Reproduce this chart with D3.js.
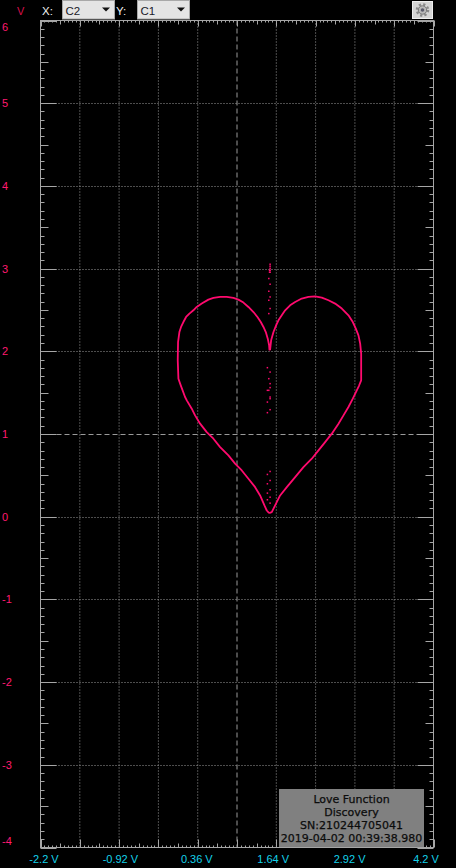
<!DOCTYPE html>
<html><head><meta charset="utf-8">
<script src="https://cdn.jsdelivr.net/npm/d3@7"></script>
<style>html,body{margin:0;padding:0;background:#000;overflow:hidden}</style>
</head><body>
<script>
// ---- data (volts) ----
const xTickLabels = ["-2.2 V","-0.92 V","0.36 V","1.64 V","2.92 V","4.2 V"];
const xTickValues = [-2.2,-0.92,0.36,1.64,2.92,4.2];
const yTickValues = [6,5,4,3,2,1,0,-1,-2,-3,-4];
const infoLines = ["Love Function","Discovery","SN:210244705041","2019-04-02 00:39:38.980"];
const traceX = [1.523,1.485,1.447,1.376,1.295,1.186,1.078,0.969,0.860,0.725,0.616,0.507,0.399,0.317,0.263,0.182,0.154,0.084,0.046,0.035,0.040,0.062,0.089,0.127,0.171,0.225,0.290,0.344,0.426,0.534,0.616,0.725,0.833,0.942,1.023,1.105,1.186,1.268,1.333,1.387,1.431,1.469,1.501,1.523,1.528,
  1.539,1.556,1.594,1.637,1.675,1.729,1.784,1.865,1.947,2.055,2.164,2.272,2.381,2.490,2.598,2.707,2.815,2.886,2.935,2.978,3.006,3.022,3.022,3.022,2.985,2.951,2.886,2.815,2.734,2.653,2.544,2.435,2.327,2.218,2.082,1.947,1.811,1.702,1.621,1.566,1.523];
const traceY = [0.043,0.075,0.136,0.257,0.357,0.459,0.559,0.641,0.741,0.842,0.943,1.023,1.125,1.225,1.306,1.407,1.447,1.588,1.669,1.891,2.112,2.233,2.294,2.354,2.415,2.456,2.496,2.536,2.577,2.625,2.645,2.657,2.657,2.645,2.625,2.589,2.536,2.475,2.415,2.354,2.294,2.233,2.153,2.072,2.020,
  2.020,2.133,2.233,2.314,2.375,2.435,2.496,2.556,2.596,2.638,2.657,2.665,2.650,2.617,2.577,2.517,2.435,2.354,2.275,2.193,2.093,1.972,1.810,1.649,1.580,1.528,1.427,1.326,1.225,1.125,1.004,0.902,0.802,0.701,0.599,0.478,0.357,0.257,0.136,0.055,0.043];
const glitchX = [1.539,1.539,1.539,1.539,1.539,1.530,1.530,1.518,1.539,1.518,1.539,1.518,1.539,1.518,1.495,1.539,1.518,1.539,1.495,1.539,1.539,1.518,1.539,1.495,1.539,1.495,1.539,1.495,1.539,1.495,1.539,1.495,1.539,1.495,1.539];
const glitchY = [3.053,3.029,3.004,2.980,2.956,2.980,2.956,2.880,2.811,2.726,2.657,2.617,2.517,2.456,1.802,1.749,1.669,1.609,1.528,1.447,1.561,1.528,1.427,1.386,1.294,1.258,0.547,0.511,0.438,0.398,0.326,0.285,0.236,0.205,0.164];

const W = 456, H = 868;
const svg = d3.select("body").append("svg").attr("width", W).attr("height", H)
  .style("display","block").style("background","#000");

const x = d3.scaleLinear().domain([-2.2, 4.2]).range([40.5, 433.5]);
const y = d3.scaleLinear().domain([-4, 6]).range([847.5, 20.5]);
const xLab = d3.scaleLinear().domain([-2.2, 4.2]).range([44, 426]);

const gridCol = "#9a9a9a", axisCol = "#a6a6a6";

// grid
const gx = d3.range(1, 10).map(k => -2.2 + 0.64 * k);
svg.append("g").selectAll("line").data(gx).join("line")
  .attr("x1", d => x(d)).attr("x2", d => x(d)).attr("y1", y(6)).attr("y2", y(-4))
  .attr("stroke", gridCol).attr("stroke-width", 1)
  .attr("stroke-dasharray", (d, i) => i === 4 ? "5,3" : "1,2");
const gy = d3.range(-3, 6);
svg.append("g").selectAll("line").data(gy).join("line")
  .attr("y1", d => Math.round(y(d)) + 0.5).attr("y2", d => Math.round(y(d)) + 0.5)
  .attr("x1", x(-2.2)).attr("x2", x(4.2))
  .attr("stroke", gridCol).attr("stroke-width", 1)
  .attr("stroke-dasharray", d => d === 1 ? "5,3" : "1,2");

// ticks
const yMinor = d3.range(0, 101).map(i => -4 + i * 0.1);
const xMinor = d3.range(0, 101).map(i => -2.2 + i * 0.064);
function kind(i){ return i % 10 === 0 ? 2 : (i % 5 === 0 ? 1 : 0); }
const tg = svg.append("g").attr("stroke", axisCol).attr("stroke-width", 1);
yMinor.forEach((v, i) => {
  const k = kind(i), L = [4, 8, 16][k], yy = Math.round(y(v)) + 0.5;
  tg.append("line").attr("x1", x(-2.2)).attr("x2", x(-2.2) + L).attr("y1", yy).attr("y2", yy);
  tg.append("line").attr("x1", x(4.2)).attr("x2", x(4.2) - L).attr("y1", yy).attr("y2", yy);
});
xMinor.forEach((v, i) => {
  const k = kind(i), xx = Math.round(x(v)) + 0.5;
  tg.append("line").attr("x1", xx).attr("x2", xx).attr("y1", y(-4)).attr("y2", y(-4) - [2, 4, 8][k]);
  tg.append("line").attr("x1", xx).attr("x2", xx).attr("y1", y(6)).attr("y2", y(6) + [2, 4, 6][k]);
});
// frame
svg.append("rect").attr("x", x(-2.2)).attr("y", y(6)).attr("width", x(4.2) - x(-2.2)).attr("height", y(-4) - y(6))
  .attr("fill", "none").attr("stroke", axisCol).attr("stroke-width", 1);

// trace
const pink = "#ff0a6e";
const pts = traceX.map((d, i) => [d, traceY[i]]);
svg.append("path").datum(pts)
  .attr("d", d3.line().x(d => x(d[0])).y(d => y(d[1])))
  .attr("fill", "none").attr("stroke", pink).attr("stroke-width", 1.8).attr("stroke-linejoin", "round");
svg.append("g").selectAll("rect").data(glitchX.map((d, i) => [d, glitchY[i]])).join("rect")
  .attr("x", d => x(d[0]) - 0.75).attr("y", d => y(d[1]) - 0.75).attr("width", 1.5).attr("height", 1.5)
  .attr("fill", pink);

// y labels
svg.append("g").selectAll("text").data(yTickValues).join("text")
  .attr("x", 2).attr("y", d => Math.max(27, Math.min(841, y(d))) + 4)
  .attr("fill", "#ff1a70").attr("font-family", "Liberation Sans, Arial, sans-serif").attr("font-size", 11)
  .text(d => d);
svg.append("text").attr("x", 17).attr("y", 15).attr("fill", "#d8104c")
  .attr("font-family", "Liberation Sans, Arial, sans-serif").attr("font-size", 11).text("V");

// x labels
svg.append("g").selectAll("text").data(xTickValues).join("text")
  .attr("x", d => xLab(d)).attr("y", 863).attr("text-anchor", "middle")
  .attr("fill", "#14d2ea").attr("font-family", "Liberation Sans, Arial, sans-serif").attr("font-size", 11)
  .text((d, i) => xTickLabels[i]);

// header controls
const hdrFont = "Liberation Sans, Arial, sans-serif";
svg.append("text").attr("x", 42).attr("y", 15).attr("fill", "#f0f0f0").attr("font-family", hdrFont).attr("font-size", 11.5).text("X:");
svg.append("text").attr("x", 116).attr("y", 15).attr("fill", "#f0f0f0").attr("font-family", hdrFont).attr("font-size", 11.5).text("Y:");
[[62, "C2"], [137, "C1"]].forEach(([bx, t]) => {
  svg.append("rect").attr("x", bx + 0.5).attr("y", 0.5).attr("width", 52).attr("height", 18.5)
    .attr("fill", "#e4e4e4").attr("stroke", "#a8a8a8");
  svg.append("text").attr("x", bx + 3.5).attr("y", 15).attr("fill", "#1a1a2a").attr("font-family", hdrFont).attr("font-size", 11.5).text(t);
  svg.append("path").attr("d", `M${bx + 40},7.5 L${bx + 48},7.5 L${bx + 44},11.5 Z`).attr("fill", "#111");
});
// gear button
svg.append("rect").attr("x", 412.5).attr("y", 1.5).attr("width", 20).attr("height", 17)
  .attr("fill", "#d4d4d4").attr("stroke", "#eeeeee");
svg.append("circle").attr("cx", 422.5).attr("cy", 10).attr("r", 5.6).attr("fill", "none")
  .attr("stroke", "#8a8a8a").attr("stroke-width", 2.4).attr("stroke-dasharray", "2.2,2.2");
svg.append("circle").attr("cx", 422.5).attr("cy", 10).attr("r", 4.2).attr("fill", "#b8b8b8").attr("stroke", "#777").attr("stroke-width", 1);
svg.append("circle").attr("cx", 422.5).attr("cy", 10).attr("r", 1.8).attr("fill", "#5a5a6a");

// info box
svg.append("rect").attr("x", 279).attr("y", 789).attr("width", 145).attr("height", 58).attr("fill", "#808080");
svg.append("g").selectAll("text").data(infoLines).join("text")
  .attr("x", 351.5).attr("y", (d, i) => 803 + i * 13).attr("text-anchor", "middle")
  .attr("fill", "#0c0c0c").attr("font-family", "DejaVu Sans, sans-serif").attr("font-size", 11)
  .attr("stroke", "#0c0c0c").attr("stroke-width", 0.25)
  .text(d => d);
</script>
</body></html>
